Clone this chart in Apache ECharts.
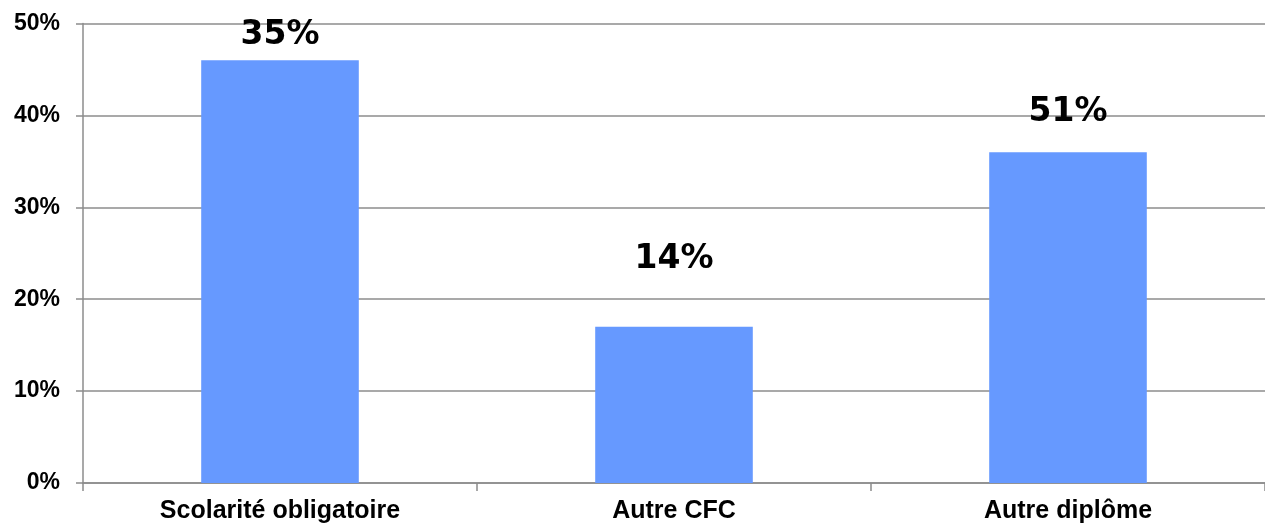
<!DOCTYPE html>
<html>
<head>
<meta charset="utf-8">
<script src="https://cdn.jsdelivr.net/npm/echarts@6/dist/echarts.min.js"></script>
<style>
html,body{margin:0;padding:0;background:#fff;}
#chart{width:1265px;height:526px;}
</style>
</head>
<body>
<div id="chart"></div>
<script>
// categories and bar values (percent)
var categories = ['Scolarité obligatoire', 'Autre CFC', 'Autre diplôme'];
var barValues = [46, 17, 36];
// texts written above the bars, and the level (in %) where each one sits
var labelTexts = ['35%', '14%', '51%'];
var labelLevels = [48.7, 24.3, 40.3];
var yTicks = [0, 10, 20, 30, 40, 50];

var labelData = [];
for (var i = 0; i < categories.length; i++) {
    labelData.push({value: [categories[i], labelLevels[i]], text: labelTexts[i]});
}

var option = {
    animation: false,
    backgroundColor: '#ffffff',
    grid: {left: 83, right: 0, top: 23.5, bottom: 43},
    xAxis: {
        type: 'category',
        data: categories,
        axisLine: {lineStyle: {color: '#8c8c8c', width: 1.5}},
        axisTick: {show: true, length: 8, lineStyle: {color: '#8c8c8c', width: 1.5}},
        axisLabel: {
            margin: 16,
            color: '#000',
            fontFamily: 'Liberation Sans, Arial, sans-serif',
            fontWeight: 'bold',
            fontSize: 25
        }
    },
    yAxis: {
        type: 'value',
        min: yTicks[0],
        max: yTicks[yTicks.length - 1],
        interval: 10,
        axisLine: {show: true, lineStyle: {color: '#8c8c8c', width: 1.5}},
        axisTick: {show: true, length: 7, lineStyle: {color: '#8c8c8c', width: 1.5}},
        splitLine: {lineStyle: {color: '#8c8c8c', width: 1.5}},
        axisLabel: {
            formatter: '{value}%',
            margin: 23,
            color: '#000',
            fontFamily: 'Liberation Sans, Arial, sans-serif',
            fontWeight: 'bold',
            fontSize: 23
        }
    },
    series: [
        {
            type: 'bar',
            data: barValues,
            barWidth: '40%',
            itemStyle: {color: '#6699ff'},
            z: 2
        },
        {
            type: 'scatter',
            data: labelData,
            symbolSize: 0,
            z: 5,
            itemStyle: {opacity: 1},
            label: {
                show: true,
                position: 'inside',
                formatter: function (p) { return p.data.text; },
                color: '#000',
                opacity: 1,
                textBorderWidth: 0,
                fontFamily: 'DejaVu Sans, sans-serif',
                fontWeight: 'bold',
                fontSize: 33
            }
        }
    ]
};

var chart = echarts.init(document.getElementById('chart'));
chart.setOption(option);
</script>
</body>
</html>
